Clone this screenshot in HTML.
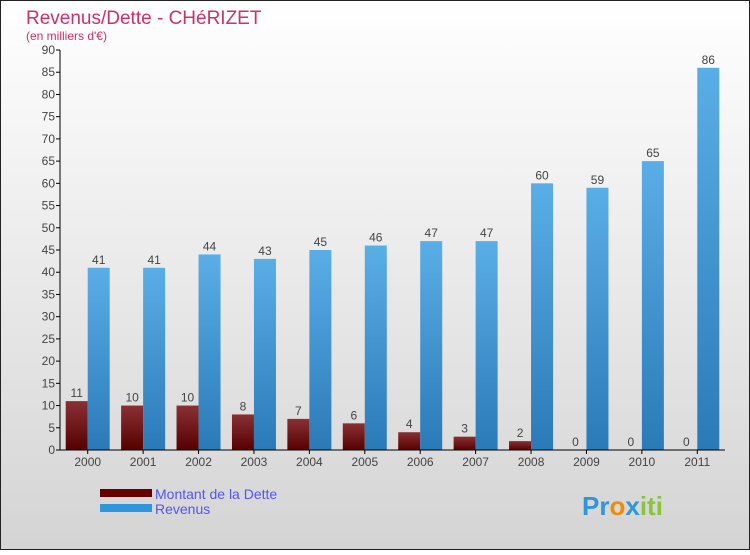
<!DOCTYPE html>
<html><head><meta charset="utf-8"><style>
body{margin:0;width:750px;height:550px;overflow:hidden;font-family:"Liberation Sans",sans-serif}
svg text{font-family:"Liberation Sans",sans-serif}
</style></head><body>
<svg id="chart" width="750" height="550" xmlns="http://www.w3.org/2000/svg">
<defs>
<linearGradient id="bg" x1="0" y1="0" x2="0" y2="1"><stop offset="0" stop-color="#ffffff"/><stop offset="1" stop-color="#d4d4d4"/></linearGradient>
<linearGradient id="gd" x1="0" y1="0" x2="0" y2="1"><stop offset="0" stop-color="#8a3034"/><stop offset="1" stop-color="#560000"/></linearGradient>
<linearGradient id="gr" x1="0" y1="0" x2="0" y2="1"><stop offset="0" stop-color="#5aaee6"/><stop offset="1" stop-color="#2a7ab8"/></linearGradient>
</defs>
<rect x="0.5" y="0.5" width="749" height="549" fill="url(#bg)" stroke="#222"/>
<text x="26" y="24" font-size="19" fill="#c8336a">Revenus/Dette - CHéRIZET</text>
<text x="26" y="40" font-size="12" fill="#c8336a">(en milliers d'€)</text>
<g id="grid"></g><g id="bars"></g><g id="axes"></g>
<rect x="100" y="489" width="52" height="8" fill="#660000"/>
<text x="155" y="499" font-size="14" fill="#5555ee">Montant de la Dette</text>
<rect x="100" y="504" width="52" height="8" fill="#2f95dc"/>
<text x="155" y="514" font-size="14" fill="#5555ee">Revenus</text>
<text x="582" y="515" font-size="26" font-weight="bold"><tspan fill="#2f95dc">Pr</tspan><tspan fill="#f08c00">o</tspan><tspan fill="#2f95dc">x</tspan><tspan fill="#8ac43a">iti</tspan></text>
</svg>
<script>
const years=["2000","2001","2002","2003","2004","2005","2006","2007","2008","2009","2010","2011"];
const dette=[11,10,10,8,7,6,4,3,2,0,0,0];
const revenus=[41,41,44,43,45,46,47,47,60,59,65,86];
const yTicks=[0,5,10,15,20,25,30,35,40,45,50,55,60,65,70,75,80,85,90];
const NS="http://www.w3.org/2000/svg";
const x0=60,x1=725,yb=450,yt=50,ymax=90;
const step=(x1-x0)/years.length;
const y=v=>yb-(v/ymax)*(yb-yt);
const cx=i=>x0+step*(i+0.5);
function mk(t,a,p){const e=document.createElementNS(NS,t);for(const k in a)e.setAttribute(k,a[k]);p.appendChild(e);return e;}
const bars=document.getElementById('bars'),axes=document.getElementById('axes');
years.forEach((yr,i)=>{
 const c=cx(i);
 if(dette[i]>0){const r=mk('rect',{x:c-22,y:y(dette[i]),width:22,height:yb-y(dette[i]),fill:'url(#gd)'},bars);
 
 }
 const t=mk('text',{x:c-11,y:y(dette[i])-4,'font-size':12,fill:'#444','text-anchor':'middle'},bars);t.textContent=dette[i];
 
 
 const r2=mk('rect',{x:c,y:y(revenus[i]),width:22,height:yb-y(revenus[i]),fill:'url(#gr)'},bars);
 
 
 const t2=mk('text',{x:c+11,y:y(revenus[i])-4,'font-size':12,fill:'#444','text-anchor':'middle'},bars);t2.textContent=revenus[i];
 
 
 const l=mk('text',{x:c,y:466,'font-size':12,fill:'#444','text-anchor':'middle'},axes);l.textContent=yr;
 
 
 mk('line',{x1:c,x2:c,y1:yb,y2:yb+4,stroke:'#000'},axes);
});
yTicks.forEach(v=>{
 mk('line',{x1:x0-4,x2:x0,y1:y(v),y2:y(v),stroke:'#000'},axes);
 const t=mk('text',{x:x0-5,y:y(v)+4,'font-size':12,fill:'#444','text-anchor':'end'},axes);t.textContent=v;
 
 
});
const ya=mk('line',{x1:x0,x2:x0,y1:yt,y2:yb,stroke:'#000'},axes);


const xa=mk('line',{x1:x0,x2:x1,y1:yb,y2:yb,stroke:'#000'},axes);


</script>
</body></html>
